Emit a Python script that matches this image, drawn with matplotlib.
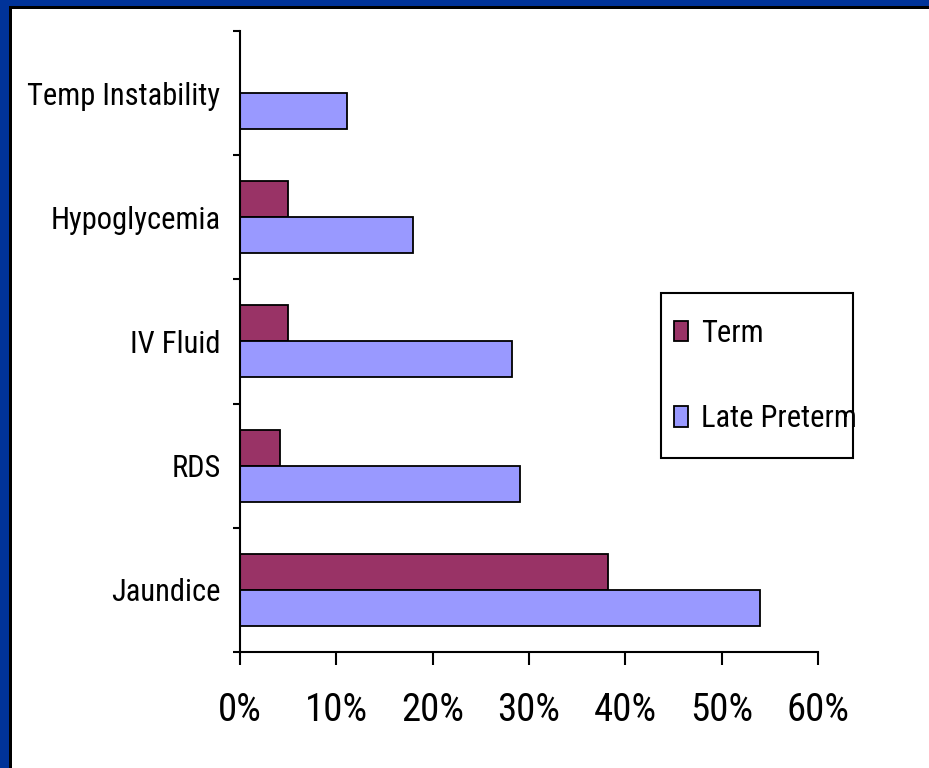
import matplotlib.pyplot as plt
import matplotlib.patches as mpatches
import numpy as np
from matplotlib.ticker import FuncFormatter

# categories bottom to top, as drawn
categories = ['Jaundice', 'RDS', 'IV Fluid', 'Hypoglycemia', 'Temp Instability']
term = [0.382, 0.042, 0.050, 0.050, 0.0]
late_preterm = [0.540, 0.291, 0.282, 0.180, 0.111]
x_ticks = [0, 0.1, 0.2, 0.3, 0.4, 0.5, 0.6]

TERM_COLOR = '#993366'
LP_COLOR = '#9999FF'

plt.rcParams['font.family'] = ['Roboto Condensed', 'Liberation Sans', 'DejaVu Sans']

# a hair over 9.29 in so the canvas rounds to 929 px, not 928
fig = plt.figure(figsize=(9.2904, 7.6804), dpi=100)
W, H = 929, 768


def px_rect(x0, y0, x1, y1, **kw):
    # rectangle given in pixels from the top-left corner
    return mpatches.Rectangle((x0 / W, 1 - y1 / H), (x1 - x0) / W, (y1 - y0) / H,
                              transform=fig.transFigure, **kw)


# slide frame: blue strip along top and left with dark inner edge
fig.patches.append(px_rect(0, 0, W, 6, facecolor='#003399', linewidth=0))
fig.patches.append(px_rect(0, 6, W, 9, facecolor='black', linewidth=0))
fig.patches.append(px_rect(0, 0, 9, H, facecolor='#003399', linewidth=0))
fig.patches.append(px_rect(9, 6, 12, H, facecolor='black', linewidth=0))

ax = fig.add_axes([240 / W, 1 - 652 / H, (818 - 240) / W, (652 - 31) / H])

y = np.arange(len(categories))
h = 0.29
ax.barh(y + h / 2, term, height=h, color=TERM_COLOR, edgecolor='black',
        linewidth=1.3, label='Term')
ax.barh(y - h / 2, late_preterm, height=h, color=LP_COLOR, edgecolor='black',
        linewidth=1.3, label='Late Preterm')

ax.set_xlim(0, 0.6)
ax.set_ylim(-0.5, len(categories) - 0.5)

ax.set_xticks(x_ticks)
ax.xaxis.set_major_formatter(FuncFormatter(lambda v, p: f'{v:.0%}'))
ax.tick_params(axis='x', direction='out', length=9.5, width=1.5, pad=19, labelsize=28)

# ticks on category boundaries, labels at centres
ax.set_yticks(np.arange(-0.5, len(categories), 1.0))
ax.set_yticklabels([])
ax.set_yticks(y, minor=True)
ax.set_yticklabels(categories, minor=True)
ax.tick_params(axis='y', which='major', direction='out', length=5, width=1.5)
ax.tick_params(axis='y', which='minor', length=0, pad=14, labelsize=22)

for side in ['top', 'right']:
    ax.spines[side].set_visible(False)
for side in ['left', 'bottom']:
    ax.spines[side].set_linewidth(1.5)

# legend box drawn separately so its padding can match the original
box = px_rect(661, 293, 853, 458, facecolor='white', edgecolor='black', linewidth=1.5,
              clip_on=False, zorder=4)
ax.add_patch(box)
leg = ax.legend(loc='upper left', bbox_to_anchor=(674 / W, 1 - 319 / H),
                bbox_transform=fig.transFigure, borderaxespad=0, borderpad=0,
                fontsize=22, frameon=False,
                handlelength=0.46, handleheight=0.65, handletextpad=0.42,
                labelspacing=1.84)
leg.set_zorder(6)

fig.savefig('out.png', dpi=100, facecolor='white')
